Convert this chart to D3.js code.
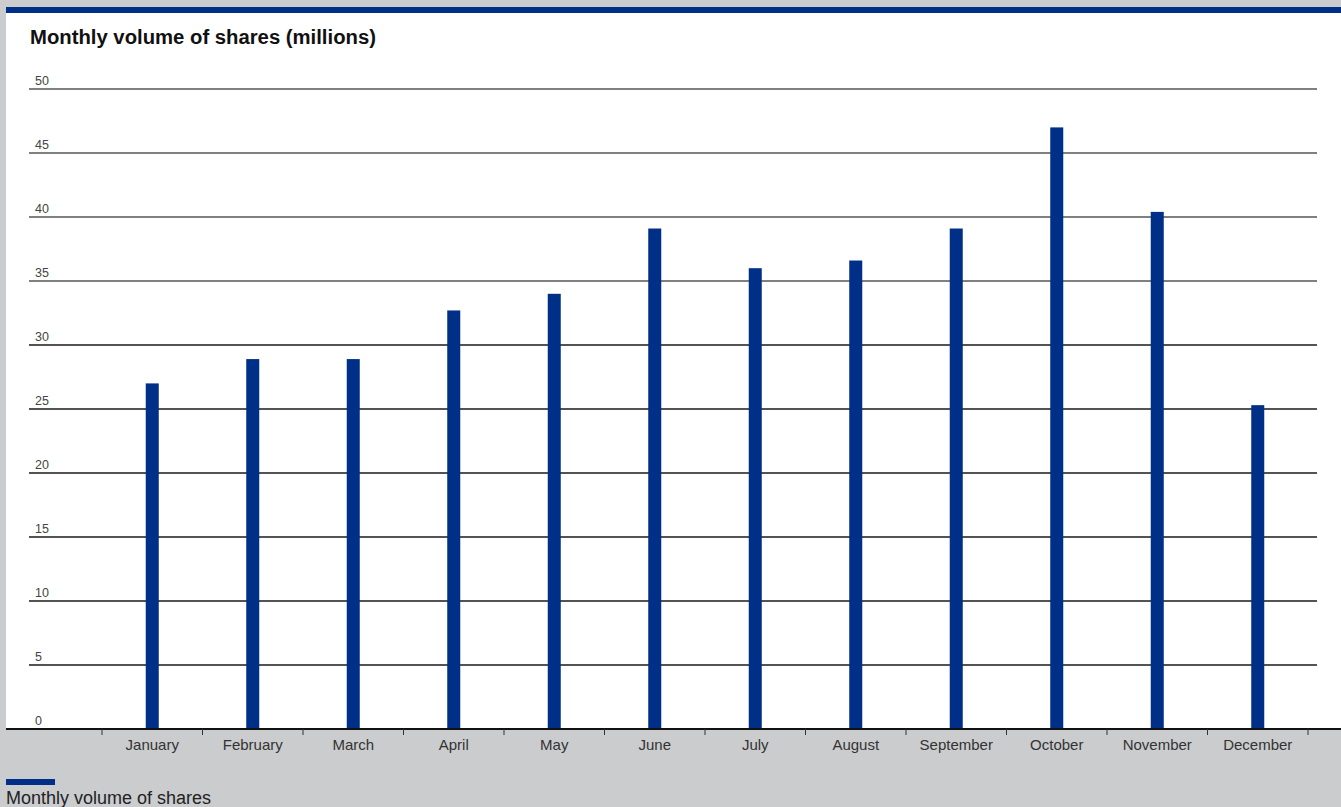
<!DOCTYPE html>
<html>
<head>
<meta charset="utf-8">
<script src="https://cdn.jsdelivr.net/npm/d3@7"></script>
<style>
  body { margin: 0; background: #cbccce; font-family: "Liberation Sans", Arial, sans-serif; }
  svg { display: block; }
</style>
</head>
<body>
<div class="chart-container"></div>
<script>
// Data
const months = ['January', 'February', 'March', 'April', 'May', 'June',
	'July', 'August', 'September', 'October', 'November', 'December'];
const volumes = [27.0, 28.9, 28.9, 32.7, 34.0, 39.1, 36.0, 36.6, 39.1, 47.0, 40.4, 25.3];
const yTicks = [0, 5, 10, 15, 20, 25, 30, 35, 40, 45, 50];
const chartTitle = 'Monthly volume of shares (millions)';
const legendLabel = 'Monthly volume of shares';

// Dimensions
const width = 1341;
const height = 807;
const plot = {left: 29, right: 1317, top: 89, bottom: 729};

const barColor = '#002f87';

const svg = d3.select('.chart-container')
	.append('svg')
	.attr('width', width)
	.attr('height', height);

// Panel
svg.append('rect')
	.attr('x', 6).attr('y', 7)
	.attr('width', width - 6).attr('height', plot.bottom - 7)
	.attr('fill', '#fff');

svg.append('rect')
	.attr('x', 6).attr('y', 7)
	.attr('width', width - 6).attr('height', 6)
	.attr('fill', barColor);

// Title
svg.append('text')
	.attr('x', 30)
	.attr('y', 44)
	.style('font-size', '20.3px')
	.style('font-weight', 'bold')
	.style('fill', '#111')
	.text(chartTitle);

// Scales
const xScale = d3.scaleBand()
	.domain(months)
	.range([102, 1308]);

const yScale = d3.scaleLinear()
	.domain([0, 50])
	.range([plot.bottom, plot.top]);

// Gridlines
const grid = svg.append('g').attr('class', 'grid');
grid.selectAll('line')
	.data(yTicks.filter(d => d > 0))
	.enter()
	.append('line')
	.attr('x1', plot.left)
	.attr('x2', plot.right)
	.attr('y1', d => yScale(d))
	.attr('y2', d => yScale(d))
	.attr('stroke', d => d >= 35 ? '#808080' : '#1a1a1a')
	.attr('stroke-width', d => d >= 35 ? 2 : 1.6);

grid.selectAll('text')
	.data(yTicks)
	.enter()
	.append('text')
	.attr('x', 35)
	.attr('y', d => yScale(d) - 4)
	.style('font-size', '12.5px')
	.style('fill', '#444')
	.text(d => d);

// Bars
svg.append('g')
	.attr('class', 'bars')
	.selectAll('rect')
	.data(volumes)
	.enter()
	.append('rect')
	.attr('x', (d, i) => xScale(months[i]) + xScale.bandwidth() / 2 - 6.5)
	.attr('y', d => yScale(d))
	.attr('width', 13)
	.attr('height', d => yScale(0) - yScale(d))
	.attr('fill', barColor);

// X axis
const xAxis = d3.axisBottom(xScale)
	.tickSize(0)
	.tickPadding(10);

const xAxisDraw = svg.append('g')
	.attr('class', 'x axis')
	.attr('transform', `translate(0, ${plot.bottom})`)
	.call(xAxis);

xAxisDraw.select('.domain').remove();
xAxisDraw.selectAll('text')
	.style('font-family', '"Liberation Sans", Arial, sans-serif')
	.style('font-size', '15px')
	.style('fill', '#333');

xAxisDraw.append('line')
	.attr('x1', 6).attr('x2', width)
	.attr('y1', 0).attr('y2', 0)
	.attr('stroke', '#111')
	.attr('stroke-width', 2);

// band edge ticks
xAxisDraw.selectAll('.edge')
	.data(months.concat(['end']))
	.enter()
	.append('line')
	.attr('class', 'edge')
	.attr('x1', (d, i) => i < months.length ? xScale(d) : xScale.range()[1])
	.attr('x2', (d, i) => i < months.length ? xScale(d) : xScale.range()[1])
	.attr('y1', 0).attr('y2', 6)
	.attr('stroke', '#333')
	.attr('stroke-width', 1);

// Legend
const legend = svg.append('g').attr('class', 'legend');
legend.append('rect')
	.attr('x', 6).attr('y', 779)
	.attr('width', 49).attr('height', 6)
	.attr('fill', barColor);
legend.append('text')
	.attr('x', 6).attr('y', 804)
	.style('font-size', '18px')
	.style('fill', '#222')
	.text(legendLabel);
</script>
</body>
</html>
